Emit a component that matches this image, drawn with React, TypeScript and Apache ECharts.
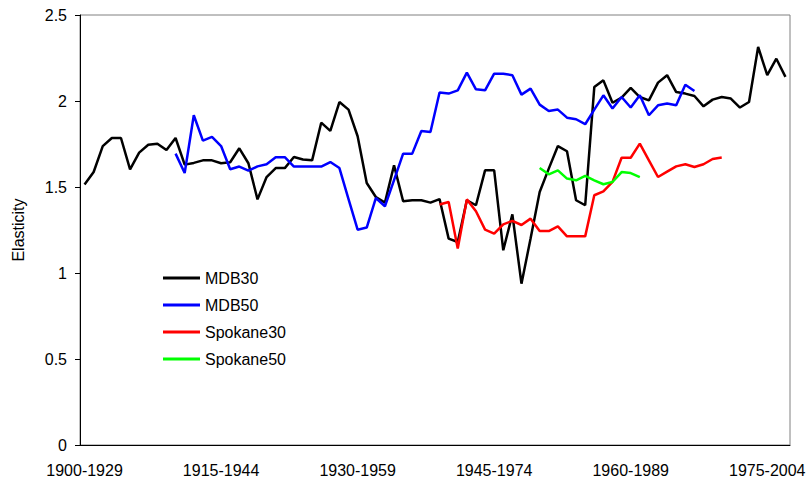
import React, { useEffect, useRef } from "react";
import * as echarts from "echarts";

const startYears: number[] = Array.from({ length: 78 }, (_, i) => 1900 + i);
const categories: string[] = startYears.map((y) => `${y}-${y + 29}`);

const mdb30: (number | null)[] = [
  1.514, 1.587, 1.738, 1.785, 1.785, 1.603, 1.7, 1.746, 1.752, 1.715,
  1.785, 1.63, 1.64, 1.655, 1.655, 1.638, 1.644, 1.725, 1.638, 1.428,
  1.558, 1.61, 1.61, 1.674, 1.66, 1.655, 1.874, 1.826, 1.994, 1.95,
  1.795, 1.523, 1.442, 1.409, 1.626, 1.417, 1.423, 1.423, 1.409, 1.43,
  1.2, 1.18, 1.423, 1.394, 1.597, 1.597, 1.132, 1.341, 0.938, 1.2,
  1.471, 1.607, 1.738, 1.708, 1.423, 1.394, 2.081, 2.12, 1.99, 2.02,
  2.076, 2.023, 2.004, 2.107, 2.15, 2.052, 2.043, 2.029, 1.969, 2.008,
  2.023, 2.014, 1.962, 1.994, 2.314, 2.15, 2.246, 2.14,
];

const mdb50Start = 10;
const mdb50Values: number[] = [
  1.694, 1.581, 1.917, 1.77, 1.791, 1.738, 1.603, 1.619, 1.595, 1.62,
  1.632, 1.673, 1.673, 1.619, 1.619, 1.619, 1.619, 1.645, 1.61, 1.43,
  1.252, 1.264, 1.436, 1.388, 1.54, 1.694, 1.694, 1.826, 1.82, 2.049,
  2.043, 2.062, 2.165, 2.068, 2.062, 2.159, 2.159, 2.15, 2.037, 2.072,
  1.979, 1.942, 1.95, 1.903, 1.894, 1.865, 1.95, 2.033, 1.956, 2.023,
  1.962, 2.033, 1.917, 1.975, 1.985, 1.975, 2.095, 2.058,
];

const spokane30Start = 39;
const spokane30Values: number[] = [
  1.398, 1.413, 1.142, 1.428, 1.359, 1.252, 1.229, 1.283, 1.303, 1.279,
  1.316, 1.244, 1.244, 1.271, 1.213, 1.213, 1.213, 1.452, 1.475, 1.53,
  1.67, 1.67, 1.752, 1.655, 1.558, 1.589, 1.62, 1.632, 1.616, 1.632,
  1.663, 1.672,
];

const spokane50Start = 50;
const spokane50Values: number[] = [
  1.61, 1.574, 1.597, 1.549, 1.539, 1.564, 1.539, 1.516, 1.529, 1.587,
  1.581, 1.558,
];

const pad = (start: number, vals: number[]): (number | null)[] =>
  categories.map((_, i) =>
    i >= start && i < start + vals.length ? vals[i - start] : null
  );

const FONT = "'Liberation Sans', Arial, sans-serif";

export default function App() {
  const ref = useRef<HTMLDivElement>(null);
  useEffect(() => {
    if (!ref.current) return;
    const chart = echarts.init(ref.current, undefined, { renderer: "svg" });
    const mk = (name: string, data: (number | null)[], color: string) => ({
      name,
      type: "line",
      data,
      symbol: "none",
      showSymbol: false,
      connectNulls: false,
      lineStyle: { color, width: 2.5 },
      itemStyle: { color },
    });
    chart.setOption({
      animation: false,
      backgroundColor: "#ffffff",
      textStyle: { fontFamily: FONT },
      grid: {
        left: 80,
        right: 20,
        top: 15,
        bottom: 36,
        show: true,
        borderColor: "#808080",
        borderWidth: 1,
      },
      legend: {
        orient: "vertical",
        left: 163,
        top: 270,
        padding: 0,
        itemWidth: 37,
        itemHeight: 3,
        itemGap: 11,
        icon: "rect",
        textStyle: { fontSize: 16, color: "#000", fontFamily: FONT, lineHeight: 16 },
        data: ["MDB30", "MDB50", "Spokane30", "Spokane50"],
      },
      xAxis: {
        type: "category",
        data: categories,
        boundaryGap: true,
        axisLine: { lineStyle: { color: "#000", width: 1 } },
        axisTick: { interval: 14, length: 5, lineStyle: { color: "#000" } },
        axisLabel: {
          interval: 14,
          fontSize: 16,
          color: "#000",
          fontFamily: FONT,
          margin: 17,
        },
        splitLine: { show: false },
      },
      yAxis: {
        type: "value",
        min: 0,
        max: 2.5,
        interval: 0.5,
        name: "Elasticity",
        nameLocation: "middle",
        nameGap: 54,
        nameRotate: 90,
        nameTextStyle: { fontSize: 16, color: "#000", fontFamily: FONT },
        axisLine: { show: true, lineStyle: { color: "#000", width: 1 } },
        axisTick: { show: true, length: 5, lineStyle: { color: "#000" } },
        axisLabel: { fontSize: 16, color: "#000", fontFamily: FONT, margin: 13 },
        splitLine: { show: false },
      },
      series: [
        mk("MDB30", mdb30, "#000000"),
        mk("MDB50", pad(mdb50Start, mdb50Values), "#0000ff"),
        mk("Spokane30", pad(spokane30Start, spokane30Values), "#ff0000"),
        mk("Spokane50", pad(spokane50Start, spokane50Values), "#00ff00"),
      ],
    });
    return () => chart.dispose();
  }, []);
  return (
    <div
      ref={ref}
      style={{ position: "absolute", left: 0, top: 0, width: 810, height: 481 }}
    />
  );
}
